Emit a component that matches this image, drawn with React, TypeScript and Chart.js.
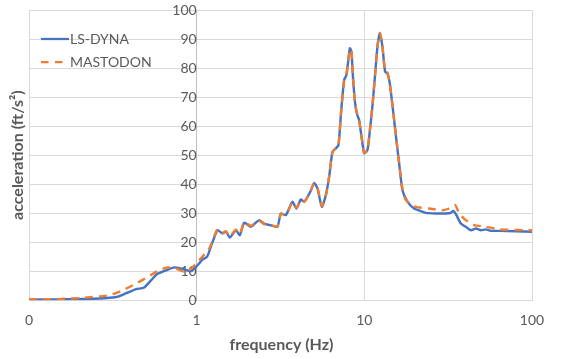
import React, { useEffect, useRef } from "react";
import { Chart, registerables } from "chart.js";

Chart.register(...registerables);

const lsDynaFreq = [0.1, 0.1514, 0.2622, 0.3311, 0.3799, 0.4357, 0.4863, 0.5355, 0.5812, 0.6578, 0.7342, 0.8083, 0.8777, 0.9273, 1.0, 1.083, 1.155, 1.215, 1.331, 1.425, 1.493, 1.578, 1.713, 1.81, 1.92, 2.105, 2.233, 2.359, 2.527, 2.782, 3.032, 3.178, 3.403, 3.726, 3.936, 4.182, 4.375, 4.642, 4.817, 5.019, 5.252, 5.58, 5.894, 6.167, 6.453, 6.761, 7.008, 7.273, 7.579, 7.823, 8.194, 8.377, 8.574, 8.812, 9.058, 9.311, 9.836, 9.972, 10.43, 10.68, 11.18, 11.6, 11.97, 12.37, 12.82, 13.3, 13.73, 14.19, 15.06, 15.76, 16.13, 16.87, 18.07, 19.82, 22.21, 23.27, 26.69, 30.62, 32.8, 33.99, 35.42, 37.63, 40.3, 43.15, 46.22, 49.52, 53.04, 56.81, 63.67, 100];
const lsDynaAcc = [0.2, 0.3, 0.6, 1.1, 2.4, 3.8, 4.4, 6.9, 9.0, 10.3, 11.3, 10.9, 10.3, 10.0, 11.7, 14.0, 15.0, 18.4, 24.1, 23.0, 23.6, 21.6, 24.1, 22.4, 26.7, 25.3, 26.5, 27.6, 26.4, 25.8, 25.3, 29.9, 29.3, 33.9, 31.6, 34.7, 33.9, 36.2, 38.0, 40.4, 38.5, 32.2, 36.2, 42.5, 51.1, 52.3, 53.4, 65.0, 75.9, 77.6, 86.8, 85.6, 76.0, 67.8, 64.0, 62.0, 52.3, 50.6, 51.7, 56.0, 67.0, 78.0, 87.4, 92.2, 87.4, 78.7, 78.2, 74.7, 62.0, 52.0, 47.1, 38.0, 34.0, 31.6, 30.5, 30.1, 29.9, 29.9, 30.1, 30.8, 29.3, 26.4, 25.3, 24.1, 24.7, 24.1, 24.4, 23.9, 23.9, 23.6];

const mastodonFreq = [0.1, 0.1514, 0.2076, 0.3007, 0.361, 0.434, 0.5087, 0.5975, 0.6697, 0.7515, 0.8425, 0.9021, 1.035, 1.187, 1.331, 1.425, 1.493, 1.578, 1.713, 1.81, 1.92, 2.105, 2.233, 2.359, 2.527, 2.782, 3.032, 3.178, 3.403, 3.726, 3.936, 4.182, 4.375, 4.642, 4.817, 5.019, 5.252, 5.58, 5.894, 6.167, 6.453, 6.761, 7.008, 7.273, 7.579, 7.823, 8.194, 8.377, 8.574, 8.812, 9.058, 9.311, 9.836, 9.972, 10.43, 10.68, 11.18, 11.6, 11.97, 12.37, 12.82, 13.3, 13.73, 14.19, 15.06, 15.76, 16.13, 16.87, 17.68, 20.28, 24.35, 29.22, 32.05, 34.8, 36.77, 40.3, 45.15, 53.04, 63.67, 100];
const mastodonAcc = [0.3, 0.4, 0.8, 1.7, 3.4, 5.7, 8.0, 10.3, 11.3, 10.9, 9.8, 10.3, 13.8, 17.8, 24.4, 23.2, 23.8, 22.0, 24.3, 22.8, 26.9, 25.6, 26.6, 27.4, 26.2, 25.8, 25.5, 29.7, 29.5, 33.7, 31.8, 34.6, 34.0, 36.0, 38.2, 40.2, 38.7, 32.5, 36.0, 42.7, 51.0, 52.5, 53.2, 65.2, 75.7, 77.8, 86.5, 85.8, 76.2, 67.6, 64.2, 61.8, 52.5, 50.8, 51.5, 56.2, 67.2, 77.8, 87.2, 92.0, 87.6, 78.5, 78.4, 74.5, 62.2, 52.2, 47.3, 38.5, 34.5, 32.2, 31.6, 31.0, 31.6, 32.8, 29.9, 27.6, 25.9, 25.3, 24.4, 24.1];

const seriesNames = ["LS-DYNA", "MASTODON"];
const xTickValues = [0.1, 1, 10, 100];
const xTickLabels = ["0", "1", "10", "100"];
const xTitle = "frequency (Hz)";
const yTitle = "acceleration (ft/s\u00B2)";

const FONT = "Lato, 'Open Sans', sans-serif";
const TEXT = "#595959";
const BLUE = "#4472C4";
const ORANGE = "#ED7D31";
const DASH = [8, 6];

export default function App() {
  const ref = useRef<HTMLCanvasElement>(null);

  useEffect(() => {
    const decor = {
      id: "decor",
      afterDraw(chart: any) {
        const ctx = chart.ctx;
        const area = chart.chartArea;
        ctx.save();
        ctx.fillStyle = TEXT;
        ctx.font = `bold 16px ${FONT}`;
        ctx.textAlign = "center";
        ctx.textBaseline = "middle";
        ctx.fillText(xTitle, (area.left + area.right) / 2 + 1, 345);
        ctx.save();
        ctx.translate(18, (area.top + area.bottom) / 2);
        ctx.rotate(-Math.PI / 2);
        ctx.fillText(yTitle, 0, 0);
        ctx.restore();

        // legend
        const items = [
          { name: seriesNames[0], color: BLUE, dash: [] as number[], y: 39 },
          { name: seriesNames[1], color: ORANGE, dash: [7.5, 6.5], y: 62 },
        ];
        ctx.font = `14px ${FONT}`;
        ctx.textAlign = "left";
        for (const it of items) {
          ctx.beginPath();
          ctx.setLineDash(it.dash);
          ctx.strokeStyle = it.color;
          ctx.lineWidth = 2.25;
          ctx.moveTo(41, it.y);
          ctx.lineTo(69, it.y);
          ctx.stroke();
          ctx.setLineDash([]);
          ctx.fillStyle = TEXT;
          ctx.fillText(it.name, 70, it.y);
        }
        ctx.restore();
      },
    };

    const chart = new Chart(ref.current!, {
      type: "line",
      data: {
        datasets: [
          {
            label: seriesNames[0],
            data: lsDynaFreq.map((x, i) => ({ x, y: lsDynaAcc[i] })),
            borderColor: BLUE,
            backgroundColor: BLUE,
            borderWidth: 2.4,
            pointRadius: 0,
            tension: 0.2,
            order: 1,
          },
          {
            label: seriesNames[1],
            data: mastodonFreq.map((x, i) => ({ x, y: mastodonAcc[i] })),
            borderColor: ORANGE,
            backgroundColor: ORANGE,
            borderDash: DASH,
            borderWidth: 2.4,
            pointRadius: 0,
            tension: 0.2,
            order: 0,
          },
        ],
      },
      options: {
        animation: false,
        responsive: true,
        maintainAspectRatio: false,
        layout: { padding: { left: 29, right: 32, top: 10, bottom: 18 } },
        plugins: { legend: { display: false }, tooltip: { enabled: false } },
        scales: {
          x: {
            type: "logarithmic",
            min: 0.1,
            max: 100,
            afterBuildTicks: (s: any) => {
              s.ticks = xTickValues.map((v) => ({ value: v }));
            },
            ticks: {
              callback: (_v: any, i: number) => xTickLabels[i],
              font: { family: FONT, size: 14 },
              color: TEXT,
              padding: 12,
              autoSkip: false,
              maxRotation: 0,
            },
            grid: { color: "#d9d9d9", drawTicks: false, lineWidth: 1 },
            border: { color: "#d9d9d9" },
          },
          y: {
            type: "linear",
            min: 0,
            max: 100,
            position: { x: 1 } as any,
            ticks: {
              stepSize: 10,
              font: { family: FONT, size: 14 },
              color: TEXT,
              padding: 1,
            },
            grid: {
              color: "#d9d9d9",
              drawTicks: true,
              tickLength: 14,
              tickColor: "rgba(0,0,0,0)",
              lineWidth: 1,
            },
            border: { color: "#bfbfbf" },
          },
        },
      } as any,
      plugins: [decor],
    });
    return () => chart.destroy();
  }, []);

  return (
    <div style={{ position: "fixed", left: 0, top: 0, width: 564, height: 359 }}>
      <canvas ref={ref} />
    </div>
  );
}
